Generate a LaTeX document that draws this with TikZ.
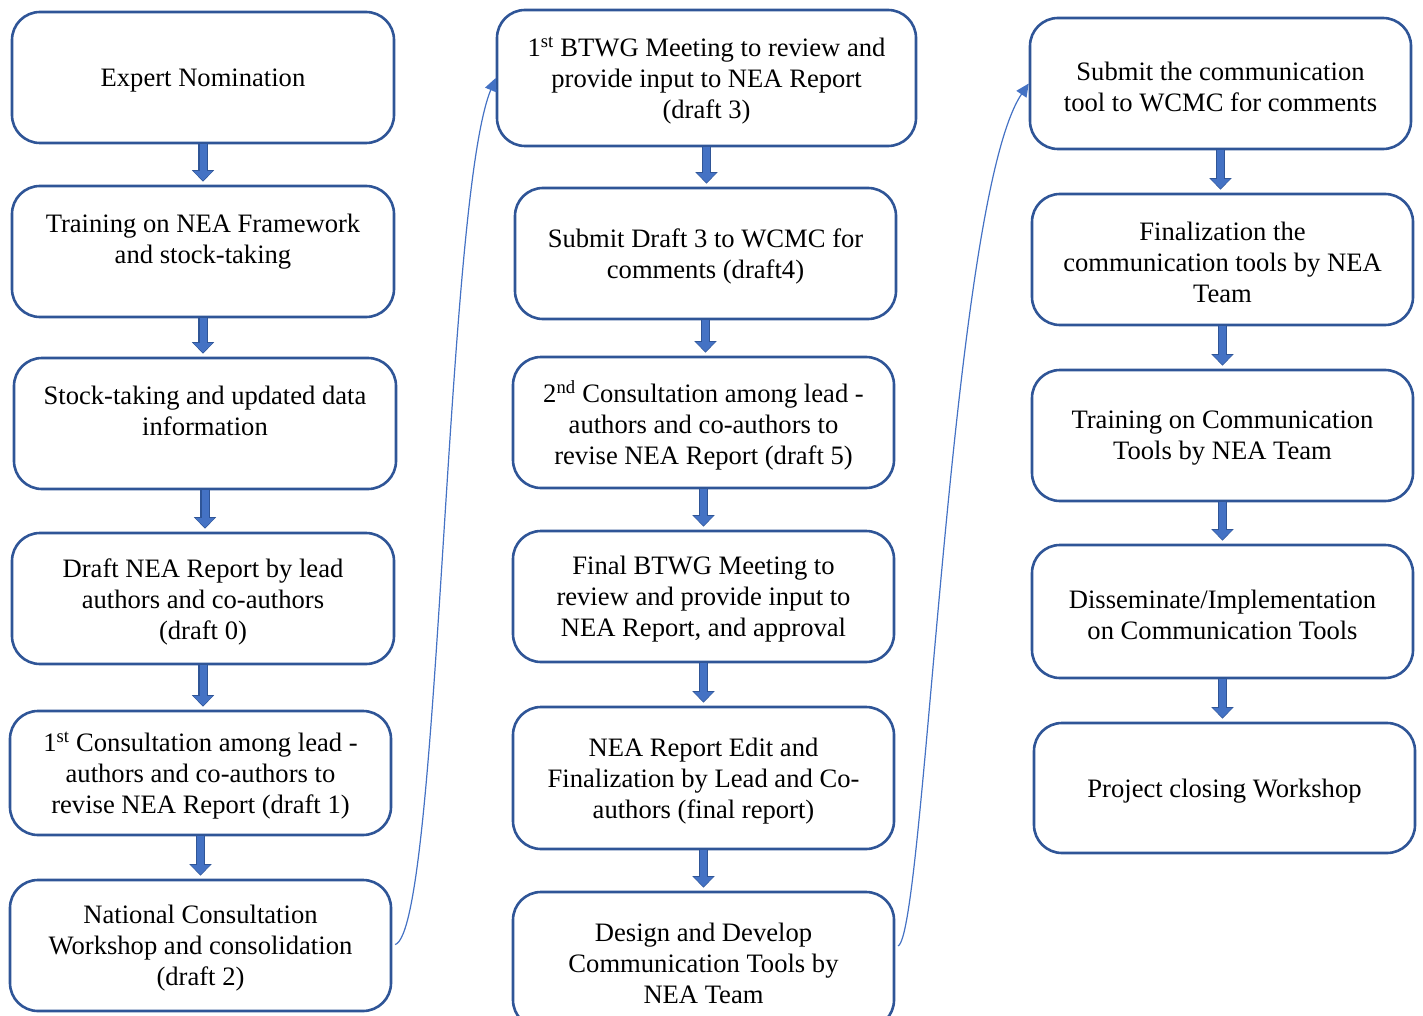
\documentclass[tikz,border=0pt]{standalone}
\usepackage{fontspec}
\setmainfont{Liberation Serif}
\usetikzlibrary{arrows.meta}
\definecolor{boxblue}{HTML}{2F5597}
\definecolor{arrblue}{HTML}{4472C4}
\begin{document}
\begin{tikzpicture}[x=1pt,y=-1pt,
  stepbox/.style={draw=boxblue, line width=2.6pt, rounded corners=28pt, fill=white, inner sep=0pt},
  txt/.style={align=center, inner sep=0pt, yshift=-3pt, font=\fontsize{26.6}{31}\selectfont},
  blk/.style={draw=arrblue, line width=7pt, -{Triangle[length=9.5pt,width=18pt]}, shorten >=4pt,
    preaction={draw=boxblue, line width=9.5pt, -{Triangle[length=11.5pt,width=21.5pt]}, shorten >=3pt}},
  curv/.style={draw=arrblue, line width=1.2pt, -{Triangle[length=13pt,width=12pt]}, shorten <=3pt}]
\useasboundingbox (0,0) rectangle (1423,1016);
\clip (0,0) rectangle (1423,1016);
% left column
\node[stepbox, minimum width=382pt, minimum height=131pt] (n1) at (203,77.5) {};
\node[stepbox, minimum width=382pt, minimum height=131pt] (n2) at (203,251.5) {};
\node[stepbox, minimum width=382pt, minimum height=131pt] (n3) at (205,423.5) {};
\node[stepbox, minimum width=382pt, minimum height=131pt] (n4) at (203,598.5) {};
\node[stepbox, minimum width=381pt, minimum height=124pt] (n5) at (200.5,773) {};
\node[stepbox, minimum width=381pt, minimum height=131pt] (n6) at (200.5,945.5) {};
\node[txt] (n1t) at (n1) {Expert Nomination};
\node[txt] (n2t) at (n2) {Training on NEA Framework\\and stock-taking\\~};
\node[txt] (n3t) at (n3) {Stock-taking and updated data\\information\\~};
\node[txt] (n4t) at (n4) {Draft NEA Report by lead\\authors and co-authors\\(draft 0)};
\node[txt] (n5t) at (n5) {1\textsuperscript{st} Consultation among lead -\\authors and co-authors to\\revise NEA Report (draft 1)};
\node[txt] (n6t) at (n6) {National Consultation\\Workshop and consolidation\\(draft 2)};
% middle column
\node[stepbox, minimum width=419pt, minimum height=136pt] (m1) at (706.5,78) {};
\node[stepbox, minimum width=381pt, minimum height=131pt] (m2) at (705.5,253.5) {};
\node[stepbox, minimum width=381pt, minimum height=131pt] (m3) at (703.5,422.5) {};
\node[stepbox, minimum width=381pt, minimum height=131pt] (m4) at (703.5,596.5) {};
\node[stepbox, minimum width=381pt, minimum height=142pt] (m5) at (703.5,778) {};
\node[stepbox, minimum width=381pt, minimum height=136pt] (m6) at (703.5,960) {};
\node[txt] (m1t) at (m1) {1\textsuperscript{st} BTWG Meeting to review and\\provide input to NEA Report\\(draft 3)};
\node[txt] (m2t) at (m2) {Submit Draft 3 to WCMC for\\comments (draft4)};
\node[txt] (m3t) at (m3) {2\textsuperscript{nd} Consultation among lead -\\authors and co-authors to\\revise NEA Report (draft 5)};
\node[txt] (m4t) at (m4) {Final BTWG Meeting to\\review and provide input to\\NEA Report, and approval};
\node[txt] (m5t) at (m5) {NEA Report Edit and\\Finalization by Lead and Co-\\authors (final report)};
\node[txt] (m6t) at (m6) {Design and Develop\\Communication Tools by\\NEA Team};
% right column
\node[stepbox, minimum width=381pt, minimum height=131pt] (r1) at (1220.5,83.5) {};
\node[stepbox, minimum width=381pt, minimum height=131pt] (r2) at (1222.5,259.5) {};
\node[stepbox, minimum width=381pt, minimum height=131pt] (r3) at (1222.5,435.5) {};
\node[stepbox, minimum width=381pt, minimum height=133pt] (r4) at (1222.5,611.5) {};
\node[stepbox, minimum width=381pt, minimum height=130pt] (r5) at (1224.5,788) {};
\node[txt] (r1t) at (r1) {Submit the communication\\tool to WCMC for comments};
\node[txt] (r2t) at (r2) {Finalization the\\communication tools by NEA\\Team};
\node[txt] (r3t) at (r3) {Training on Communication\\Tools by NEA Team};
\node[txt] (r4t) at (r4) {Disseminate/Implementation\\on Communication Tools};
\node[txt] (r5t) at (r5) {Project closing Workshop};
% block arrows
\draw[blk] (n1.south) -- (n1.south |- n2.north);
\draw[blk] (n2.south) -- (n2.south |- n3.north);
\draw[blk] (n3.south) -- (n3.south |- n4.north);
\draw[blk] (n4.south) -- (n4.south |- n5.north);
\draw[blk] (n5.south) -- (n5.south |- n6.north);
\draw[blk] (m1.south) -- (m1.south |- m2.north);
\draw[blk] (m2.south) -- (m2.south |- m3.north);
\draw[blk] (m3.south) -- (m3.south |- m4.north);
\draw[blk] (m4.south) -- (m4.south |- m5.north);
\draw[blk] (m5.south) -- (m5.south |- m6.north);
\draw[blk] (r1.south) -- (r1.south |- r2.north);
\draw[blk] (r2.south) -- (r2.south |- r3.north);
\draw[blk] (r3.south) -- (r3.south |- r4.north);
\draw[blk] (r4.south) -- (r4.south |- r5.north);
% curved connectors
\draw[curv] (n6.east) .. controls (440,930) and (445,200) .. (m1.west);
\draw[curv] ([yshift=13pt]m6.east) .. controls (925,935) and (950,200) .. (r1.west);
\end{tikzpicture}
\end{document}
